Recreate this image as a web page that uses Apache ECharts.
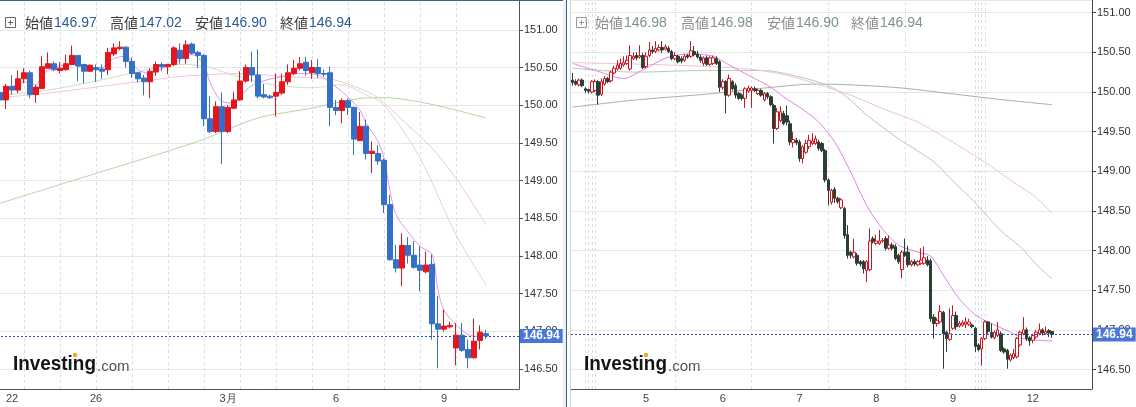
<!DOCTYPE html>
<html><head><meta charset="utf-8">
<script src="https://cdn.jsdelivr.net/npm/echarts@6/dist/echarts.min.js"></script>
<style>html,body{margin:0;padding:0;background:#fff;overflow:hidden}#c{width:1136px;height:407px}</style>
</head><body><div id="c"></div>
<script>
// ---- DATA (candles as [open, close, low, high]) ----
const leftCandles = [
[150.17,150.07,150.03,150.20],[150.07,150.25,149.95,150.28],[150.25,150.20,150.14,150.40],[150.20,150.35,150.16,150.46],
[150.35,150.43,150.29,150.49],[150.43,150.14,150.09,150.46],[150.14,150.24,150.03,150.27],[150.22,150.51,150.22,150.65],
[150.49,150.55,150.49,150.70],[150.55,150.47,150.45,150.58],[150.46,150.49,150.42,150.57],[150.47,150.55,150.46,150.67],
[150.54,150.66,150.53,150.79],[150.66,150.52,150.32,150.66],[150.54,150.45,150.29,150.55],[150.45,150.53,150.44,150.54],
[150.50,150.47,150.31,150.54],[150.48,150.45,150.35,150.54],[150.47,150.70,150.40,150.76],[150.68,150.76,150.65,150.82],
[150.75,150.77,150.73,150.85],[150.77,150.58,150.50,150.78],[150.58,150.42,150.36,150.63],[150.43,150.35,150.30,150.44],
[150.36,150.31,150.13,150.40],[150.31,150.45,150.09,150.49],[150.44,150.54,150.39,150.58],[150.54,150.51,150.45,150.57],
[150.51,150.54,150.41,150.55],[150.54,150.76,150.52,150.78],[150.73,150.62,150.55,150.82],[150.62,150.80,150.55,150.86],
[150.81,150.69,150.67,150.83],[150.70,150.66,150.49,150.72],[150.66,149.82,149.72,150.68],[149.82,149.65,149.63,150.12],
[149.65,149.98,149.63,150.05],[149.98,149.65,149.22,150.17],[149.65,149.97,149.63,150.00],[149.96,150.07,149.95,150.18],
[150.07,150.32,150.06,150.45],[150.32,150.50,150.30,150.54],[150.50,150.40,150.31,150.71],[150.40,150.12,150.09,150.74],
[150.14,150.11,150.09,150.28],[150.12,150.10,150.08,150.14],[150.12,150.17,149.85,150.42],[150.16,150.31,150.14,150.42],
[150.31,150.43,150.27,150.54],[150.42,150.49,150.40,150.60],[150.49,150.55,150.46,150.64],[150.57,150.46,150.39,150.64],
[150.43,150.50,150.35,150.60],[150.50,150.42,150.36,150.61],[150.42,150.41,150.38,150.47],[150.43,149.97,149.72,150.51],
[149.97,149.93,149.87,150.07],[149.93,150.06,149.76,150.09],[150.06,149.97,149.87,150.09],[149.97,149.55,149.34,149.98],
[149.53,149.72,149.53,149.91],[149.72,149.36,149.28,149.81],[149.36,149.39,149.10,149.52],[149.36,149.26,149.21,149.47],
[149.27,148.68,148.57,149.29],[148.68,147.95,147.94,148.81],[147.95,147.84,147.78,148.15],[147.84,148.14,147.60,148.30],
[148.14,148.01,147.90,148.25],[148.01,147.85,147.83,148.20],[147.88,147.81,147.53,148.13],[147.79,147.88,147.77,148.06],
[147.89,147.10,146.89,148.02],[147.10,147.03,146.51,147.47],[147.03,147.07,147.00,147.29],[147.06,147.08,147.04,147.13],
[146.78,146.95,146.55,147.11],[146.95,146.75,146.73,147.11],[146.76,146.65,146.51,146.89],[146.65,146.87,146.64,147.17],
[146.88,146.99,146.76,147.08],[146.97,146.94,146.90,147.02]
];
const rightCandles = [
[150.15,150.12,150.08,150.24],[150.13,150.10,150.08,150.16],[150.09,150.15,150.07,150.17],[150.15,150.08,150.06,150.17],
[150.04,150.02,149.99,150.06],[150.03,150.01,149.98,150.04],[150.00,150.13,149.98,150.15],[150.02,150.13,150.00,150.16],
[150.13,149.96,149.84,150.15],[149.97,150.13,149.95,150.17],[150.10,150.17,150.08,150.20],[150.17,150.13,150.11,150.19],
[150.14,150.25,150.12,150.27],[150.24,150.30,150.22,150.33],[150.29,150.34,150.27,150.40],[150.30,150.36,150.28,150.42],
[150.34,150.37,150.32,150.45],[150.36,150.40,150.34,150.46],[150.29,150.46,150.27,150.59],[150.42,150.45,150.40,150.50],
[150.46,150.43,150.40,150.50],[150.44,150.46,150.42,150.59],[150.46,150.31,150.29,150.49],[150.32,150.45,150.30,150.50],
[150.46,150.53,150.44,150.63],[150.53,150.51,150.48,150.58],[150.51,150.55,150.49,150.64],[150.53,150.56,150.51,150.60],
[150.56,150.53,150.49,150.64],[150.54,150.57,150.52,150.60],[150.55,150.51,150.49,150.58],[150.51,150.42,150.40,150.53],
[150.42,150.46,150.40,150.50],[150.45,150.38,150.36,150.47],[150.42,150.39,150.36,150.45],[150.40,150.45,150.38,150.48],
[150.46,150.44,150.42,150.48],[150.45,150.52,150.43,150.64],[150.51,150.47,150.45,150.58],[150.48,150.44,150.42,150.52],
[150.44,150.40,150.37,150.47],[150.36,150.43,150.33,150.45],[150.43,150.35,150.33,150.46],[150.35,150.43,150.33,150.45],
[150.36,150.43,150.34,150.46],[150.42,150.36,150.34,150.45],[150.38,150.06,150.00,150.40],[150.06,150.13,150.03,150.16],
[150.13,149.96,149.73,150.15],[149.96,150.17,149.94,150.22],[150.13,150.04,150.02,150.15],[150.08,149.96,149.92,150.11],
[149.98,149.92,149.90,150.00],[149.96,149.92,149.89,149.98],[149.92,150.04,149.80,150.06],[150.01,150.05,149.99,150.08],
[150.02,150.05,149.80,150.07],[150.04,150.02,150.00,150.07],[149.98,150.02,149.96,150.04],[150.02,149.96,149.94,150.04],
[149.90,149.98,149.88,150.00],[149.98,149.94,149.91,150.00],[149.94,149.84,149.82,149.96],[149.83,149.54,149.35,149.85],
[149.54,149.75,149.52,149.80],[149.64,149.75,149.62,149.82],[149.73,149.60,149.58,149.76],[149.70,149.62,149.58,149.83],
[149.60,149.37,149.33,149.64],[149.36,149.40,149.30,149.50],[149.39,149.36,149.33,149.42],[149.37,149.16,149.12,149.40],
[149.16,149.31,149.10,149.33],[149.24,149.35,149.22,149.40],[149.31,149.39,149.28,149.46],[149.35,149.38,149.33,149.48],
[149.35,149.41,149.33,149.45],[149.37,149.29,149.26,149.40],[149.35,149.26,149.24,149.37],[149.26,148.89,148.86,149.28],
[148.89,148.76,148.57,148.91],[148.61,148.76,148.58,148.78],[148.77,148.66,148.60,148.80],[148.66,148.62,148.59,148.68],
[148.54,148.64,148.52,148.66],[148.53,148.19,148.15,148.55],[148.20,147.94,147.90,148.32],[147.98,147.94,147.90,148.00],
[147.92,147.98,147.90,148.15],[147.94,147.84,147.81,147.97],[147.86,147.83,147.80,147.88],[147.86,147.77,147.71,147.88],
[147.75,147.86,147.60,147.88],[147.76,148.12,147.74,148.28],[148.15,148.11,148.09,148.18],[148.09,148.12,148.07,148.20],
[148.09,148.12,148.07,148.26],[148.12,148.13,148.10,148.16],[148.15,148.03,148.00,148.18],[148.03,148.07,148.01,148.19],
[148.07,148.03,148.00,148.10],[148.05,147.90,147.88,148.08],[147.94,147.86,147.83,147.96],[147.76,147.98,147.65,148.00],
[147.98,147.94,147.92,148.15],[147.98,147.82,147.79,148.06],[147.82,147.86,147.80,147.88],[147.86,147.83,147.80,147.89],
[147.82,147.86,147.80,147.88],[147.84,147.88,147.82,148.03],[147.84,147.91,147.82,148.05],[147.88,147.82,147.80,147.93],
[147.87,147.14,147.10,147.90],[147.16,147.08,146.89,147.20],[147.08,147.12,147.04,147.15],[147.10,147.23,147.08,147.31],
[147.22,146.95,146.51,147.24],[146.97,146.89,146.72,146.99],[146.88,146.95,146.86,147.27],[147.02,147.18,147.00,147.31],
[147.18,147.04,147.00,147.23],[147.05,147.08,147.03,147.11],[147.06,147.09,147.04,147.12],[147.07,147.10,147.02,147.16],
[147.07,147.10,147.05,147.14],[147.06,147.04,147.02,147.08],[147.02,146.79,146.72,147.04],[146.81,146.75,146.73,146.83],
[146.76,146.89,146.55,146.91],[146.89,147.10,146.87,147.12],[147.10,146.98,146.95,147.11],[146.97,146.91,146.89,147.08],
[146.90,146.97,146.88,146.99],[146.93,147.00,146.91,147.10],[146.95,146.74,146.72,146.98],[146.76,146.72,146.70,146.78],
[146.74,146.63,146.51,146.76],[146.62,146.68,146.60,146.70],[146.65,146.70,146.63,146.76],[146.66,146.89,146.64,146.91],
[146.81,146.97,146.79,146.99],[146.95,147.00,146.93,147.16],[147.00,146.89,146.86,147.03],[146.90,146.86,146.80,146.92],
[146.87,146.93,146.83,146.95],[146.91,146.97,146.89,147.00],[146.95,147.00,146.93,147.08],[147.00,146.96,146.93,147.02],
[146.95,146.98,146.94,147.04],[146.99,146.96,146.91,147.01],[146.98,146.94,146.90,146.98]
];
const leftSlotCount = 87;
const rightSlotCount = 163;
const leftTickLabels = [[2,'22'],[16,'26'],[38,'3月'],[56,'6'],[74,'9']];
const rightTickLabels = [[23,'5'],[47,'6'],[71,'7'],[95,'8'],[119,'9'],[144,'12']];
const leftDayLines = [4,10,16,22,28,34,40,46,52,58,64,70,76];
const rightDayLines = [4,5,6,7,32,56,80,104,126,127,128,129];
const leftYRange = [146.236, 151.395];
const rightYRange = [146.254, 151.160];
// moving averages as [candle index, value]
const leftMAshort = [[0,150.12],[4,150.31],[6,150.27],[7,150.40],[9,150.50],[12,150.54],[14,150.50],[17,150.50],[19,150.62],[21,150.65],[23,150.47],[25,150.42],[27,150.49],[29,150.56],[32,150.67],[34,150.54],[35,150.30],[37,150.05],[39,150.03],[41,150.20],[43,150.30],[47,150.38],[50,150.42],[53,150.40],[55,150.30],[58,150.11],[60,149.93],[61,149.76],[63,149.52],[64,149.30],[65,148.86],[66,148.55],[68,148.32],[70,148.13],[72,148.02],[73,147.55],[74,147.28],[76,147.09],[78,146.96],[80,146.93],[81,146.96]];
const leftMApink = [[0,150.10],[8,150.16],[16,150.24],[24,150.32],[30,150.38],[36,150.41],[41,150.42],[47,150.38],[53,150.36],[56,150.33],[60,150.22],[63,150.10],[66,149.88],[72,149.43],[76,149.03],[81,148.42]];
const leftMAgreen = [[0,150.13],[8,150.20],[16,150.32],[24,150.46],[30,150.54],[34,150.52],[38,150.42],[44,150.29],[52,150.23],[57,150.27],[61,150.14],[64,150.00],[70,149.30],[76,148.28],[81,147.62]];
const leftMAlong = [[0,148.70],[17,149.12],[33,149.52],[43,149.83],[52,149.96],[60,150.09],[64,150.10],[72,150.01],[81,149.83]];
const rightMAshort = [[0,150.36],[8,150.26],[16,150.17],[22,150.28],[30,150.44],[37,150.48],[44,150.45],[49,150.34],[56,150.19],[62,150.06],[66,149.94],[72,149.78],[77,149.62],[82,149.37],[87,148.99],[92,148.57],[97,148.27],[102,148.07],[108,147.98],[112,147.93],[116,147.69],[121,147.39],[126,147.19],[130,147.10],[137,146.97],[141,146.89],[145,146.87],[150,146.86]];
const rightMApink = [[0,150.37],[30,150.34],[55,150.29],[66,150.22],[74,150.13],[87,149.96],[97,149.79],[108,149.62],[118,149.39],[128,149.14],[138,148.86],[145,148.67],[150,148.47]];
const rightMAgreen = [[0,150.30],[20,150.25],[40,150.27],[60,150.27],[70,150.20],[80,150.08],[86,149.93],[92,149.71],[102,149.41],[113,149.12],[118,148.92],[126,148.60],[134,148.25],[140,148.05],[145,147.83],[150,147.64]];
const rightMAlong = [[0,149.81],[20,149.90],[44,149.98],[60,150.05],[76,150.10],[100,150.06],[118,149.98],[135,149.90],[150,149.84]];
const headerNames = ['始値','高値','安値','終値'];

// ---- BUILD ----
const FONT = '"Liberation Sans", Arial, sans-serif';
const CJK = '"Noto Sans CJK JP", "Liberation Sans", sans-serif';
function cats(n){ return Array.from({length:n}, (_, i) => String(i)); }
function xAxisCfg(gridIndex, n, labels){
  const map = {}; labels.forEach(([i,t]) => { map[i] = t; });
  return {type:'category', gridIndex, data:cats(n), boundaryGap:true,
    axisLine:{show:true, lineStyle:{color:'#555', width:1}}, axisTick:{show:false},
    axisLabel:{interval:(i)=> map[i] !== undefined, formatter:(v,i)=> map[i] !== undefined ? map[i] : '',
      color:'#444', fontSize:11, margin:4, fontFamily:FONT},
    splitLine:{show:false}};
}
function yAxisCfg(gridIndex, range, axisColor){
  return {type:'value', gridIndex, position:'right', min:range[0], max:range[1], splitNumber:10,
    minInterval:0.5, maxInterval:0.5,
    axisLine:{show:true, lineStyle:{color:axisColor, width:1}},
    axisTick:{show:true, length:4, lineStyle:{color:axisColor}},
    axisLabel:{color:'#333', fontSize:11, margin:5, fontFamily:FONT, showMinLabel:false, showMaxLabel:false,
      formatter:(v)=> v.toFixed(2)},
    splitLine:{show:true, lineStyle:{color:'#e6e6e6', width:1}}};
}
function dayLines(idx, lines){
  return {type:'line', xAxisIndex:idx, yAxisIndex:idx, data:[], silent:true, z:1,
    markLine:{silent:true, symbol:'none', z:1, animation:false, label:{show:false},
      lineStyle:{color:'#d9dfea', type:[3,3], width:1},
      data: lines.map(i => ({xAxis:i}))}};
}
function maLine(idx, data, color, w){
  return {type:'line', xAxisIndex:idx, yAxisIndex:idx, data, symbol:'none', smooth:0.3, silent:true, z:2,
    lineStyle:{color, width:w||1}};
}
function candles(idx, data, style, bw){
  const last = data[data.length-1][1];
  return {type:'candlestick', xAxisIndex:idx, yAxisIndex:idx, data, barWidth:bw, z:3, silent:true,
    itemStyle:style,
    markLine:{silent:true, symbol:'none', z:6, animation:false,
      lineStyle:{color:'#2b4ea6', type:[2,2], width:1},
      label:{show:true, position:'end', distance:1, formatter:()=> last.toFixed(2),
        backgroundColor:'#4a76d8', color:'#fff', fontSize:12, fontWeight:'bold', fontFamily:FONT,
        padding:[1,3,0,3], lineHeight:13},
      data:[{yAxis:last}]}};
}
function header(x0, vx, candle, labelColor, valueColor, iconColor){
  const vals = [candle[0], candle[3], candle[2], candle[1]];
  const els = [
    {type:'rect', shape:{x:x0+0.5, y:17.5, width:10, height:10}, style:{fill:'none', stroke:iconColor, lineWidth:1}, z:100},
    {type:'line', shape:{x1:x0+3, y1:22.5, x2:x0+8, y2:22.5}, style:{stroke:iconColor, lineWidth:1}, z:100},
    {type:'line', shape:{x1:x0+5.5, y1:20, x2:x0+5.5, y2:25}, style:{stroke:iconColor, lineWidth:1}, z:100}
  ];
  headerNames.forEach((n, k) => {
    els.push({type:'text', x:vx[k]-29, y:23, z:100, style:{text:n, fontSize:14, fontFamily:CJK, fill:labelColor, verticalAlign:'middle', align:'left'}});
    els.push({type:'text', x:vx[k], y:23.5, z:100, style:{text:vals[k].toFixed(2), fontSize:14, fontFamily:FONT, fill:valueColor, verticalAlign:'middle', align:'left'}});
  });
  return els;
}
function logo(x, dotX){
  return [
    {type:'text', x:x, y:364, scaleX:0.9, z:100, style:{text:'Investing', fontSize:21, fontWeight:'bold', fontFamily:FONT, fill:'#151515', verticalAlign:'middle', align:'left'}},
    {type:'text', x:x+84, y:367, z:100, style:{text:'.com', fontSize:15, fontFamily:FONT, fill:'#555', verticalAlign:'middle', align:'left'}},
    {type:'circle', shape:{cx:dotX, cy:355, r:2.2}, style:{fill:'#f5a623'}, z:101}
  ];
}

const chart = echarts.init(document.getElementById('c'), null, {renderer:'canvas', width:1136, height:407});
chart.setOption({
  animation:false,
  backgroundColor:'#fff',
  grid:[
    {left:-3, right:617, top:0, bottom:18, outerBoundsMode:'none', containLabel:false},
    {left:571, right:44, top:0, bottom:18, outerBoundsMode:'none', containLabel:false}
  ],
  xAxis:[xAxisCfg(0, leftSlotCount, leftTickLabels), xAxisCfg(1, rightSlotCount, rightTickLabels)],
  yAxis:[yAxisCfg(0, leftYRange, '#3f5964'), yAxisCfg(1, rightYRange, '#444')],
  series:[
    dayLines(0, leftDayLines),
    dayLines(1, rightDayLines),
    maLine(0, leftMAlong, '#b9d3a6'),
    maLine(0, leftMAgreen, '#cfe0c1'),
    maLine(0, leftMApink, '#f1c5d7'),
    maLine(0, leftMAshort, '#dc98e2'),
    candles(0, leftCandles, {color:'#e8141c', color0:'#3570c8', borderColor:'#e8141c', borderColor0:'#3570c8', borderWidth:1}, 5),
    maLine(1, rightMAlong, '#a9b39f'),
    maLine(1, rightMAgreen, '#bcc8b0'),
    maLine(1, rightMApink, '#efc3d6'),
    maLine(1, rightMAshort, '#e283e8'),
    candles(1, rightCandles, {color:'#ffffff', color0:'#2a3e34', borderColor:'#cc1520', borderColor0:'#2a3e34', borderWidth:1}, 3)
  ],
  graphic:{elements:[
    {type:'line', shape:{x1:0, y1:0.5, x2:567, y2:0.5}, style:{stroke:'#2d6a88', lineWidth:1}, z:90},
    {type:'rect', shape:{x:563, y:0, width:3, height:407}, style:{fill:'#edf1f4'}, z:90},
    {type:'line', shape:{x1:566.5, y1:0, x2:566.5, y2:407}, style:{stroke:'#2d6a88', lineWidth:1}, z:90},
    {type:'line', shape:{x1:570.5, y1:0, x2:570.5, y2:407}, style:{stroke:'#cfcfcf', lineWidth:1}, z:90},
    ...header(5, [54,139,224,309], leftCandles[leftCandles.length-1], '#3a3a3a', '#2a5b92', '#666'),
    ...header(576, [624,710,796,880], rightCandles[rightCandles.length-1], '#8d8d8d', '#7d948a', '#999'),
    ...logo(13, 75),
    ...logo(584, 646)
  ]}
});
</script></body></html>
